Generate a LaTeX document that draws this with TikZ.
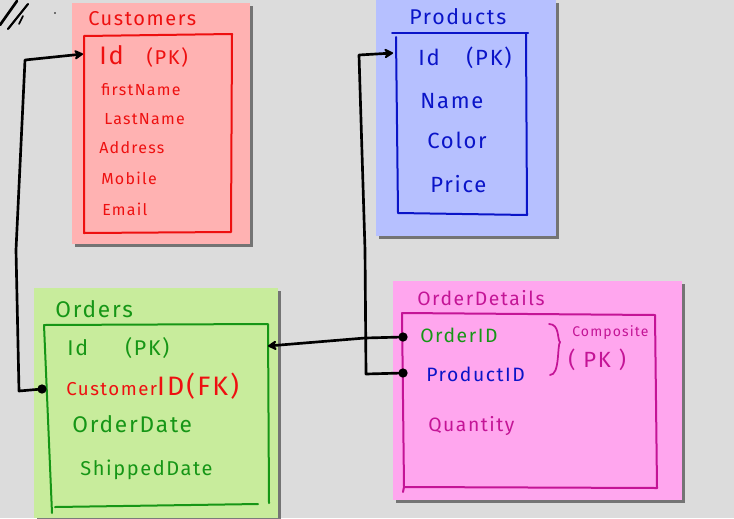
\documentclass[tikz,border=0pt]{standalone}
\usepackage{fontspec}
\setmainfont[LetterSpace=8]{Fira Sans}
\usetikzlibrary{arrows.meta}
\definecolor{bg}{RGB}{220,220,220}
\definecolor{custfill}{RGB}{255,178,178}
\definecolor{custink}{RGB}{238,16,16}
\definecolor{prodfill}{RGB}{182,192,255}
\definecolor{prodink}{RGB}{10,20,200}
\definecolor{ordfill}{RGB}{200,236,156}
\definecolor{ordink}{RGB}{22,150,22}
\definecolor{detfill}{RGB}{255,166,238}
\definecolor{detink}{RGB}{196,20,150}
\definecolor{shadowc}{RGB}{90,90,90}
\tikzset{
  sticky/.style={fill=#1, draw=none},
  shadowbox/.style={fill=shadowc, draw=none, opacity=0.8},
  frame/.style={draw=#1, line width=1.5pt, line join=round, line cap=round},
  txt/.style={inner sep=0pt, anchor=west, text=#1},
  conn/.style={draw=black, line width=2pt, line join=round, line cap=round},
  tip/.style={-{Stealth[length=8pt,width=9pt,round]}},
  dotmark/.style={circle, fill=black, inner sep=0pt, minimum size=7pt}
}
\begin{document}
\begin{tikzpicture}[x=0.75pt,y=-0.75pt]
\useasboundingbox (0,0) rectangle (734,518);
\fill[bg] (0,0) rectangle (734,518);
% decorative strokes top-left
\draw[line width=2pt, line cap=round] (0,25) -- (17,1);
\draw[line width=1.6pt, line cap=round] (8,29) -- (28,4);
\draw[line width=1.2pt, line cap=round] (19,24) -- (23,16);
\fill (55,13) circle (0.6pt);

% ---------- Customers ----------
\fill[shadowbox] (75,6) rectangle (253,247);
\fill[sticky=custfill] (72,3) rectangle (250,244);
\node[txt=custink, font=\fontsize{15}{17}\selectfont] (custTitle) at (88,19) {Customers};
\draw[frame=custink] (84,36) -- (232,34) -- (231,232) -- (84,233) -- cycle;
\node[txt=custink] (custId) at (99,56) {{\fontsize{19}{21}\selectfont Id}\hspace{17pt}{\fontsize{15}{17}\selectfont (PK)}};
\node[txt=custink, font=\fontsize{12}{14}\selectfont] (custFirst) at (101,90) {firstName};
\node[txt=custink, font=\fontsize{12}{14}\selectfont] (custLast) at (104,119) {LastName};
\node[txt=custink, font=\fontsize{12}{14}\selectfont] (custAddr) at (99,148) {Address};
\node[txt=custink, font=\fontsize{12}{14}\selectfont] (custMob) at (101,178) {Mobile};
\node[txt=custink, font=\fontsize{12}{14}\selectfont] (custMail) at (102,209) {Email};
\coordinate (custIn) at (83,54);

% ---------- Products ----------
\fill[shadowbox] (379,3) rectangle (559,239);
\fill[sticky=prodfill] (376,0) rectangle (556,236);
\node[txt=prodink, font=\fontsize{16}{18}\selectfont] (prodTitle) at (409,17) {Products};
\draw[frame=prodink] (392,33) -- (528,33);
\draw[frame=prodink] (396,37) -- (398,213) -- (527,215) -- (526,33);
\node[txt=prodink, font=\fontsize{16.5}{18}\selectfont] (prodId) at (418,58) {Id\hspace{20pt}(PK)};
\node[txt=prodink, font=\fontsize{16.5}{18}\selectfont] (prodName) at (420,101) {Name};
\node[txt=prodink, font=\fontsize{16.5}{18}\selectfont] (prodColor) at (427,140) {Color};
\node[txt=prodink, font=\fontsize{16.5}{18}\selectfont] (prodPrice) at (430,184) {Price};
\coordinate (prodIn) at (393,53);

% ---------- Orders ----------
\fill[shadowbox] (37,291) rectangle (281,521);
\fill[sticky=ordfill] (34,288) rectangle (278,518);
\node[txt=ordink, font=\fontsize{17}{19}\selectfont] (ordTitle) at (55,309) {Orders};
\draw[frame=ordink] (44,325) -- (268,324) -- (269,503);
\draw[frame=ordink] (44,325) -- (52,513);
\draw[frame=ordink] (55,507) -- (258,504);
\node[txt=ordink, font=\fontsize{16}{18}\selectfont] (ordId) at (67,348) {Id\hspace{28pt}(PK)};
\node[txt=custink] (ordCust) at (66,386) {{\fontsize{14}{16}\selectfont Customer}{\fontsize{20}{22}\selectfont ID(FK)}};
\node[txt=ordink, font=\fontsize{17}{19}\selectfont] (ordDate) at (72,424) {OrderDate};
\node[txt=ordink, font=\fontsize{15}{17}\selectfont] (ordShip) at (80,470) {ShippedDate};
\coordinate (ordIn) at (268,346);
\node[dotmark] (ordDot) at (42,389) {};

% ---------- OrderDetails ----------
\fill[shadowbox] (396,284) rectangle (685,503);
\fill[sticky=detfill] (393,281) rectangle (682,500);
\node[txt=detink, font=\fontsize{14.5}{16}\selectfont] (detTitle) at (417,298) {OrderDetails};
\draw[frame=detink] (402,313) -- (655,315) -- (657,488) -- (404,487) -- (403,492);
\draw[frame=detink] (402,313) -- (404,487);
\node[txt=ordink, font=\fontsize{14.5}{16}\selectfont] (detOrder) at (420,335) {OrderID};
\node[txt=prodink, font=\fontsize{14.5}{16}\selectfont] (detProd) at (426,374) {ProductID};
\node[txt=detink, font=\fontsize{14.5}{16}\selectfont] (detQty) at (428,426) {Quantity};
\draw[frame=detink, line width=1.3pt] (549,324) .. controls (560,324) and (557,340) .. (560,342)
  .. controls (557,346) and (560,375) .. (550,375);
\node[txt=detink, font=\fontsize{10.5}{12}\selectfont] (detComp) at (572,333) {Composite};
\node[txt=detink, font=\fontsize{16.5}{18}\selectfont] (detPK) at (568,360) {(\hspace{6pt}PK\hspace{6pt})};
\node[dotmark] (detDot1) at (403,337) {};
\node[dotmark] (detDot2) at (403,373) {};

% ---------- connectors ----------
\coordinate (c1a) at (19,391);
\coordinate (c1b) at (16,250);
\coordinate (c1c) at (25,60);
\draw[conn, tip] (ordDot.center) -- (c1a) -- (c1b) -- (c1c) -- (custIn);

\coordinate (c2a) at (365,338);
\draw[conn, tip] (detDot1.center) -- (c2a) -- (ordIn);

\coordinate (c3a) at (366,374);
\coordinate (c3b) at (365,250);
\coordinate (c3c) at (359,55);
\draw[conn, tip] (detDot2.center) -- (c3a) -- (c3b) -- (c3c) -- (prodIn);
\end{tikzpicture}
\end{document}
